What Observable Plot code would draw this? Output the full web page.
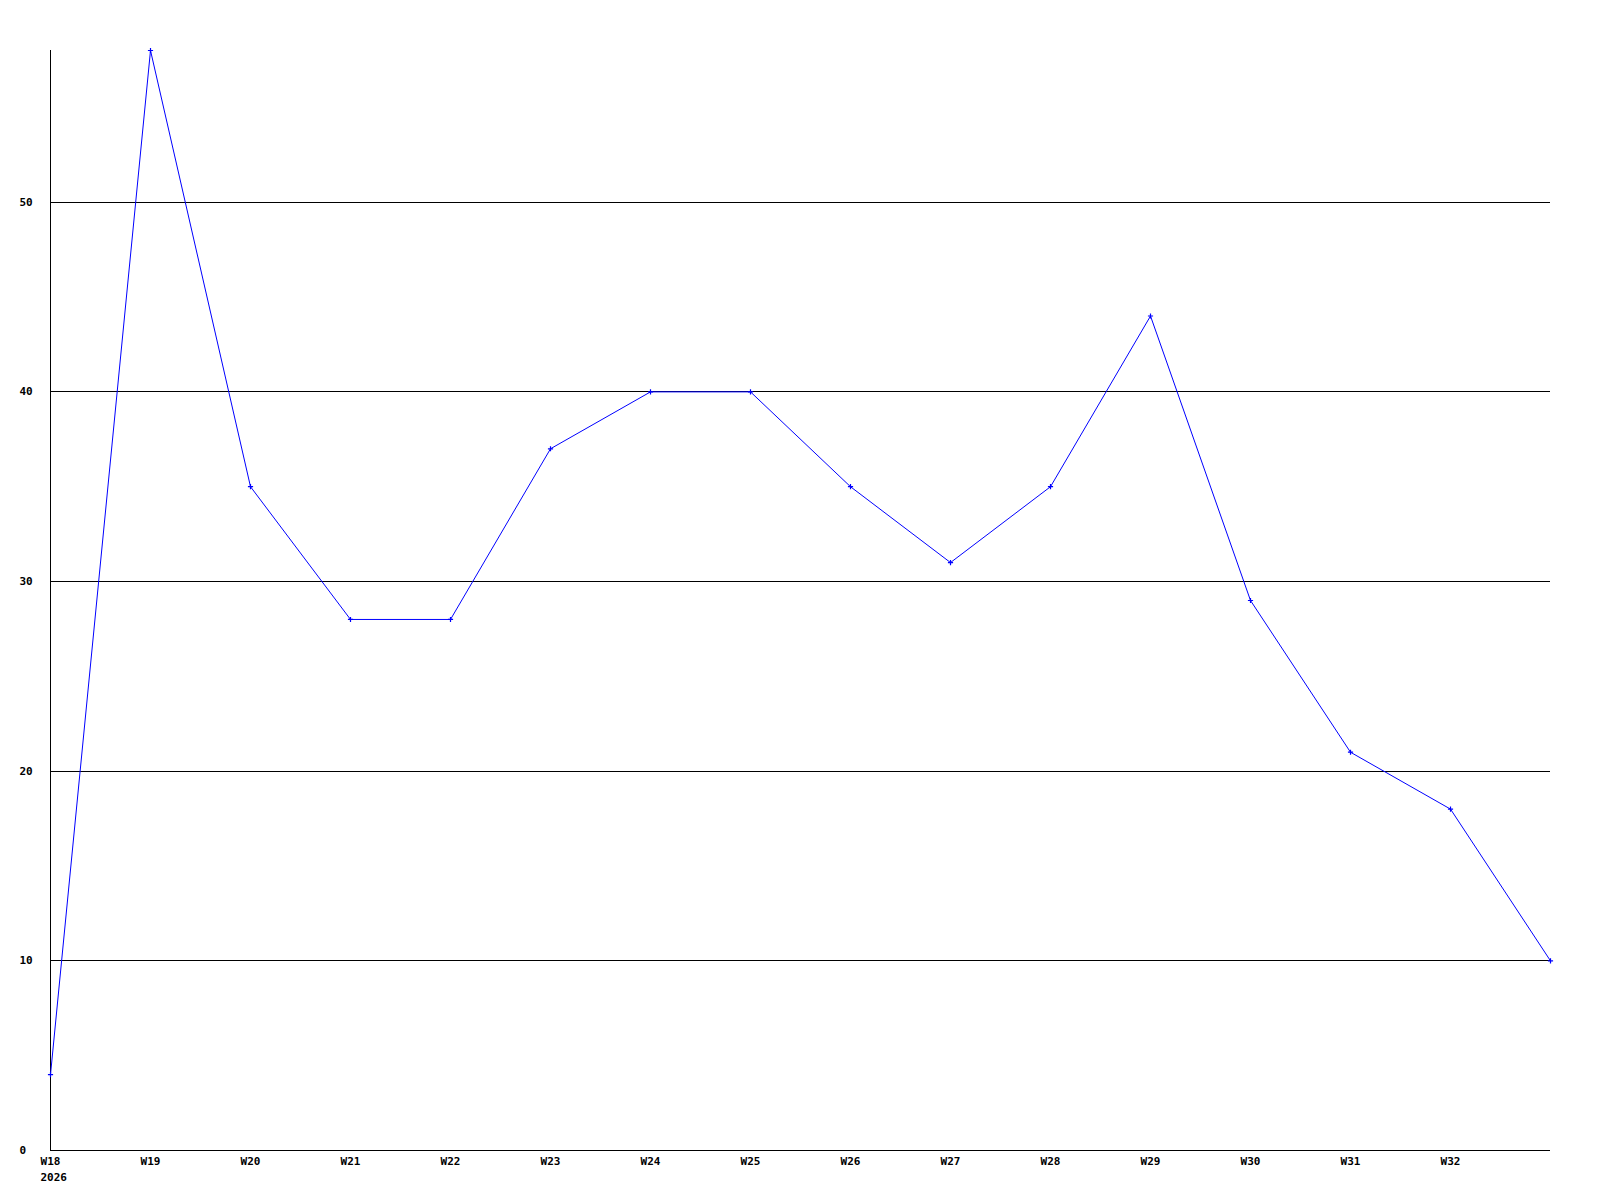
<!DOCTYPE html>
<html>
<head>
<meta charset="utf-8">
<script src="https://cdn.jsdelivr.net/npm/d3@7"></script>
<script src="https://cdn.jsdelivr.net/npm/@observablehq/plot@0.6"></script>
<style>
  html, body { margin: 0; padding: 0; background: #fff; }
  svg { display: block; }
</style>
</head>
<body>
<div id="chart"></div>
<script>
const weeks = ["W18","W19","W20","W21","W22","W23","W24","W25","W26","W27","W28","W29","W30","W31","W32","W33"];
const values = [4, 58, 35, 28, 28, 37, 40, 40, 35, 31, 35, 44, 29, 21, 18, 10];
const yTicks = [0, 10, 20, 30, 40, 50];
const gridValues = [10, 20, 30, 40, 50];
const xTickIdx = d3.range(0, 15);
const yearLabel = ["2026"];

const data = values.map((v, i) => ({i, week: weeks[i], v}));

const chart = Plot.plot({
  width: 1600,
  height: 1200,
  marginLeft: 50,
  marginRight: 50,
  marginTop: 50,
  marginBottom: 50,
  style: {fontFamily: "'DejaVu Sans Mono', monospace", fontSize: "11px", fontWeight: "bold", background: "#fff", color: "#000"},
  x: {domain: [0, 15]},
  y: {domain: [0, 58]},
  marks: [
    Plot.ruleY(gridValues, {stroke: "#000", strokeWidth: 1, shapeRendering: "crispEdges"}),
    Plot.ruleX([0], {stroke: "#000", strokeWidth: 1, shapeRendering: "crispEdges"}),
    Plot.ruleY([0], {stroke: "#000", strokeWidth: 1, shapeRendering: "crispEdges"}),
    Plot.axisY({ticks: yTicks, tickSize: 0, tickPadding: 31, textAnchor: "start", label: null, fill: "#000"}),
    Plot.axisX({ticks: xTickIdx, tickSize: 0, tickPadding: 7, tickFormat: i => weeks[i], label: null, fill: "#000"}),
    Plot.text(yearLabel, {x: () => 0, y: () => 0, text: d => d, textAnchor: "start", dx: -10, dy: 27, fill: "#000"}),
    Plot.line(data, {x: "i", y: "v", stroke: "#0000ff", strokeWidth: 1}),
    Plot.dot(data, {x: "i", y: "v", symbol: "plus", r: 1.8, stroke: "#0000ff", strokeWidth: 1.2})
  ]
});
document.getElementById("chart").appendChild(chart);
</script>
</body>
</html>
